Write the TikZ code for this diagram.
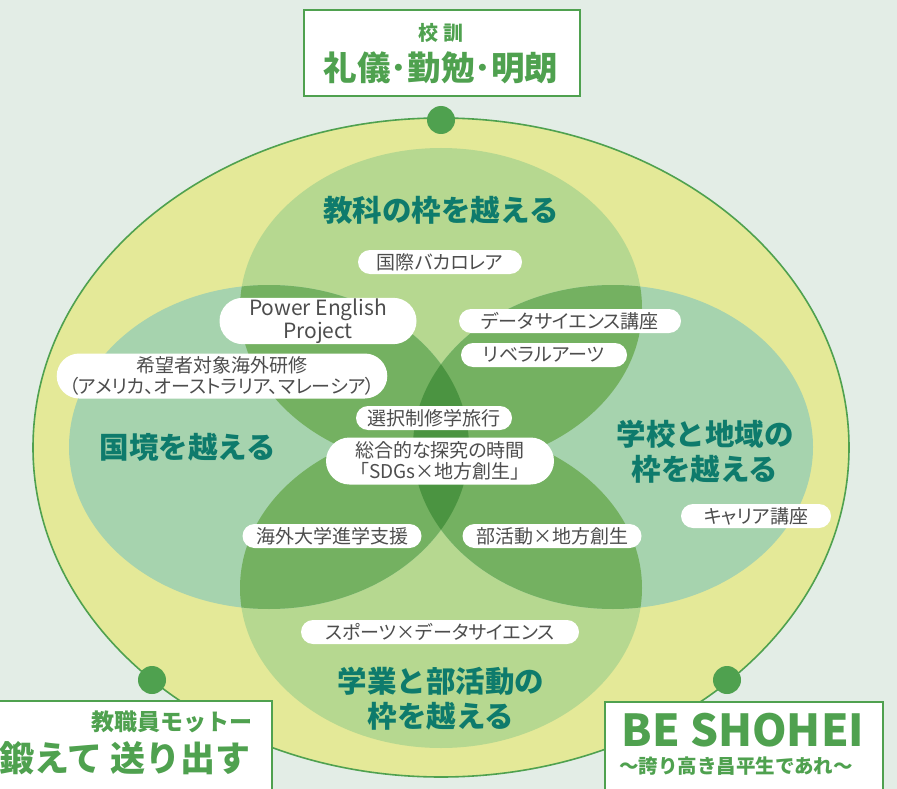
\documentclass[tikz,border=0pt]{standalone}
\usepackage{fontspec}
\newfontfamily\jp{Noto Sans CJK JP}
\newfontfamily\jpp{Noto Sans CJK JP}[RawFeature=+palt]
\usetikzlibrary{shapes.misc}
\definecolor{bgmint}{HTML}{E3EDE6}
\definecolor{outeryellow}{HTML}{E4E998}
\definecolor{linegreen}{HTML}{4FA14F}
\definecolor{lightleaf}{HTML}{B6D890}
\definecolor{lightmint}{HTML}{A6D3AE}
\definecolor{midleaf}{HTML}{74B161}
\definecolor{darkleaf}{HTML}{4B9441}
\definecolor{teal}{HTML}{0E7B6C}
\definecolor{labelgray}{HTML}{4D4D4D}
\tikzset{
  pill/.style={rounded rectangle, fill=white, text=labelgray, inner sep=1pt,
    minimum height=24pt, font=\jpp\fontsize{19}{21}\selectfont, align=center},
  theme/.style={text=teal, align=center, font=\jp\bfseries\fontsize{29.5}{35}\selectfont},
  mottobox/.style={draw=linegreen, line width=1.6pt, fill=white, text=linegreen},
  pin/.style={circle, fill=linegreen, minimum size=28pt, inner sep=0pt}
}
\begin{document}
\begin{tikzpicture}[x=1pt,y=-1pt]
    \useasboundingbox (0,0) rectangle (897,789);
    \fill[bgmint] (0,0) rectangle (897,789);
    % outer frame
    \fill[outeryellow] (441,447.5) ellipse [x radius=408, y radius=329.5];
    \draw[linegreen, line width=1.6pt] (441,447.5) ellipse [x radius=408, y radius=329.5];
    % four fields
    \fill[lightleaf] (441,308) ellipse [x radius=201, y radius=160];
    \fill[lightleaf] (441,588) ellipse [x radius=201, y radius=160];
    \fill[lightmint] (269,447) ellipse [x radius=200, y radius=162];
    \fill[lightmint] (613,447) ellipse [x radius=200, y radius=162];
    \begin{scope}
        \clip (441,308) ellipse [x radius=201, y radius=160] (441,588) ellipse [x radius=201, y radius=160];
        \fill[midleaf] (269,447) ellipse [x radius=200, y radius=162];
        \fill[midleaf] (613,447) ellipse [x radius=200, y radius=162];
    \end{scope}
    \begin{scope}
        \clip (269,447) ellipse [x radius=200, y radius=162];
        \fill[darkleaf] (613,447) ellipse [x radius=200, y radius=162];
    \end{scope}
    % pins on the frame
    \node[pin] (pintop) at (441,120) {};
    \node[pin] (pinleft) at (152,680) {};
    \node[pin] (pinright) at (727,680) {};
    % field titles
    \node[theme] (subject) at (441,210) {教科の枠を越える};
    \node[theme] (border) at (188,447) {国境を越える};
    \node[theme] (region) at (705,452) {学校と地域の\\枠を越える};
    \node[theme] (club) at (441,699) {学業と部活動の\\枠を越える};
    % programmes
    \node[pill, minimum width=166pt] (ib) at (440,262) {国際バカロレア};
    \node[pill, minimum width=199pt, minimum height=45pt] (pep) at (318,321)
        {\fontsize{21}{19}\selectfont Power English\\\fontsize{21}{19}\selectfont Project};
    \node[pill, minimum width=224pt] (ds) at (570,321) {データサイエンス講座};
    \node[pill, minimum width=168pt] (liberal) at (544,355) {リベラルアーツ};
    \node[pill, minimum width=323pt, minimum height=45pt] (abroad) at (222,376)
        {希望者対象海外研修\\（アメリカ、オーストラリア、マレーシア）};
    \node[pill, minimum width=158pt] (trip) at (434,418) {選択制修学旅行};
    \node[pill, minimum width=230pt, minimum height=47pt] (sdgs) at (440,461)
        {総合的な探究の時間\\「SDGs×地方創生」};
    \node[pill, minimum width=181pt] (univ) at (332,536) {海外大学進学支援};
    \node[pill, minimum width=181pt] (clubsdg) at (552,536) {部活動×地方創生};
    \node[pill, minimum width=280pt] (sports) at (440,632) {スポーツ×データサイエンス};
    \node[pill, minimum width=152pt] (career) at (756,516) {キャリア講座};
    % mottos
    \draw[mottobox] (304,10) rectangle (580,96);
    \node[text=linegreen, font=\jp\bfseries\fontsize{20}{22}\selectfont] (kunhead) at (441,33) {校 訓};
    \node[text=linegreen, font=\jp\bfseries\fontsize{33.5}{35}\selectfont] (kun) at (441,68) {礼儀･勤勉･明朗};
    \draw[mottobox] (-2,701) rectangle (272,791);
    \node[text=linegreen, anchor=east, font=\jp\bfseries\fontsize{23}{25}\selectfont] (stafhead) at (256,722) {教職員モットー};
    \node[text=linegreen, anchor=east, font=\jp\bfseries\fontsize{35}{37}\selectfont] (staff) at (254,758) {鍛えて 送り出す};
    \draw[mottobox] (605,702) rectangle (883,791);
    \node[text=linegreen, font=\jp\bfseries\fontsize{44}{46}\selectfont] (beshohei) at (743,730) {BE SHOHEI};
    \node[text=linegreen, font=\jp\bfseries\fontsize{19.5}{21}\selectfont] (pride) at (736,766) {～誇り高き昌平生であれ～};
\end{tikzpicture}
\end{document}
